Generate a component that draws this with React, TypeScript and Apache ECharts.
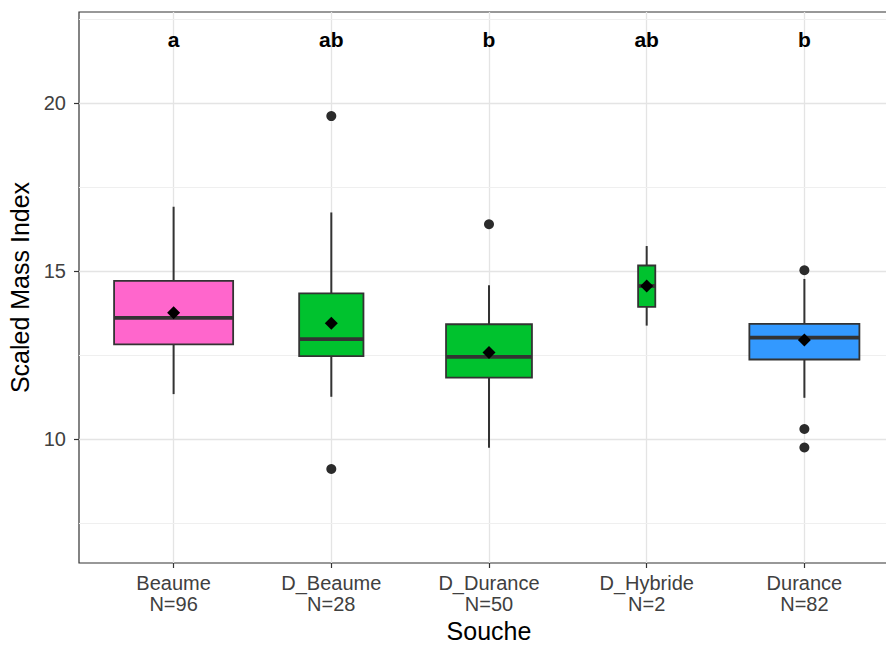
import React, { useEffect, useRef } from "react";
import * as echarts from "echarts";

const categories = ["Beaume", "D_Beaume", "D_Durance", "D_Hybride", "Durance"];
const counts = [96, 28, 50, 2, 82];
const whiskerLow = [11.34, 11.26, 9.74, 13.38, 11.23];
const q1 = [12.82, 12.47, 11.83, 13.94, 12.37];
const median = [13.61, 12.98, 12.45, 14.56, 13.02];
const q3 = [14.71, 14.34, 13.42, 15.17, 13.43];
const whiskerHigh = [16.92, 16.75, 14.58, 15.75, 14.77];
const means = [13.76, 13.45, 12.58, 14.56, 12.95];
const outlierCats = ["D_Beaume", "D_Beaume", "D_Durance", "Durance", "Durance", "Durance"];
const outlierVals = [19.62, 9.11, 16.4, 15.03, 10.3, 9.75];
const letters = ["a", "ab", "b", "ab", "b"];
const letterLevel = 21.9;
const fills = ["#ff66cc", "#00c22e", "#00c22e", "#00c22e", "#3399ff"];
const yTicks = [10, 15, 20];
const yMinor = [7.5, 12.5, 17.5, 22.5];
const yRange = [6.31, 22.72];
const xRange = [0.4, 5.6];

const FONT = "'Liberation Sans', Arial, Helvetica, sans-serif";

export default function App() {
  const ref = useRef<HTMLDivElement>(null);
  useEffect(() => {
    if (!ref.current) return;
    const chart = echarts.init(ref.current, undefined, { renderer: "svg" });
    const xTicks = categories.map((_, i) => i + 1);
    const maxN = Math.max(...counts);
    const boxData = categories.map((_, i) => [
      i + 1,
      whiskerLow[i],
      q1[i],
      median[i],
      q3[i],
      whiskerHigh[i],
      counts[i],
    ]);
    const option: any = {
      animation: false,
      backgroundColor: "#ffffff",
      grid: {
        left: 79,
        top: 12,
        width: 820,
        height: 551,
        show: true,
        borderColor: "#333333",
        borderWidth: 1.2,
        backgroundColor: "#ffffff",
        containLabel: false,
        outerBoundsMode: "none",
      },
      xAxis: {
        type: "value",
        min: xRange[0],
        max: xRange[1],
        splitNumber: 5,
        axisLine: { show: false },
        axisTick: {
          show: true,
          length: 5,
          customValues: xTicks,
          lineStyle: { color: "#333333", width: 1.2 },
        },
        axisLabel: {
          customValues: xTicks,
          fontSize: 20,
          lineHeight: 20.5,
          color: "#404040",
          margin: 10,
          fontFamily: FONT,
          formatter: (v: number) => {
            const i = Math.round(v) - 1;
            if (Math.abs(v - Math.round(v)) > 1e-6 || !categories[i]) return "";
            return categories[i] + "\nN=" + counts[i];
          },
        },
        splitLine: { show: true, lineStyle: { color: "#e4e4e4", width: 1.3 } },
        name: "Souche",
        nameLocation: "middle",
        nameGap: 52,
        nameTextStyle: { fontSize: 25, color: "#000000", fontFamily: FONT },
      },
      yAxis: {
        type: "value",
        min: yRange[0],
        max: yRange[1],
        splitNumber: 3,
        axisLine: { show: false },
        axisTick: {
          show: true,
          length: 5,
          customValues: yTicks,
          lineStyle: { color: "#333333", width: 1.2 },
        },
        axisLabel: {
          customValues: yTicks,
          fontSize: 20,
          color: "#404040",
          margin: 13,
          fontFamily: FONT,
          formatter: (v: number) => (yTicks.indexOf(v) >= 0 ? String(v) : ""),
        },
        splitLine: { show: true, lineStyle: { color: "#e4e4e4", width: 1.3 } },
        name: "Scaled Mass Index",
        nameLocation: "middle",
        nameGap: 40,
        nameTextStyle: { fontSize: 25, color: "#000000", fontFamily: FONT },
      },
      series: [
        {
          type: "line",
          data: [],
          silent: true,
          z: 1,
          markLine: {
            silent: true,
            z: 1,
            symbol: ["none", "none"],
            label: { show: false },
            lineStyle: { color: "#efefef", width: 1, type: "solid" },
            data: yMinor.map((v) => ({ yAxis: v })),
          },
        },
        {
          type: "custom",
          z: 3,
          data: boxData,
          renderItem: (params: any, api: any) => {
            const x = api.value(0);
            const n = api.value(6);
            const unit = api.size([1, 0])[0];
            const w = unit * 0.755 * Math.sqrt(n / maxN);
            const cx = api.coord([x, api.value(1)])[0];
            const yLo = api.coord([x, api.value(1)])[1];
            const yQ1 = api.coord([x, api.value(2)])[1];
            const yMed = api.coord([x, api.value(3)])[1];
            const yQ3 = api.coord([x, api.value(4)])[1];
            const yHi = api.coord([x, api.value(5)])[1];
            const stroke = "#333333";
            return {
              type: "group",
              children: [
                {
                  type: "line",
                  shape: { x1: cx, y1: yLo, x2: cx, y2: yQ1 },
                  style: { stroke, lineWidth: 2 },
                },
                {
                  type: "line",
                  shape: { x1: cx, y1: yQ3, x2: cx, y2: yHi },
                  style: { stroke, lineWidth: 2 },
                },
                {
                  type: "rect",
                  shape: { x: cx - w / 2, y: yQ3, width: w, height: yQ1 - yQ3 },
                  style: { fill: fills[params.dataIndex], stroke, lineWidth: 1.8 },
                },
                {
                  type: "line",
                  shape: { x1: cx - w / 2, y1: yMed, x2: cx + w / 2, y2: yMed },
                  style: { stroke, lineWidth: 3.8 },
                },
              ],
            };
          },
        },
        {
          type: "scatter",
          z: 4,
          symbol: "circle",
          symbolSize: 10,
          itemStyle: { color: "#2b2b2b", opacity: 1 },
          data: outlierCats.map((c, i) => [categories.indexOf(c) + 1, outlierVals[i]]),
        },
        {
          type: "scatter",
          z: 5,
          symbol: "diamond",
          symbolSize: 13,
          itemStyle: { color: "#000000", opacity: 1 },
          data: means.map((m, i) => [i + 1, m]),
        },
        {
          type: "custom",
          z: 6,
          data: letters.map((_, i) => [i + 1, letterLevel]),
          renderItem: (params: any, api: any) => {
            const p = api.coord([api.value(0), api.value(1)]);
            return {
              type: "text",
              x: p[0],
              y: p[1],
              style: {
                text: letters[params.dataIndex],
                fill: "#000000",
                fontSize: 21,
                fontWeight: "bold",
                fontFamily: FONT,
                align: "center",
                verticalAlign: "middle",
              },
            };
          },
        },
      ],
    };
    chart.setOption(option);
    return () => chart.dispose();
  }, []);
  return (
    <div
      ref={ref}
      style={{ position: "fixed", left: 0, top: 0, width: 886, height: 646, background: "#fff" }}
    />
  );
}
